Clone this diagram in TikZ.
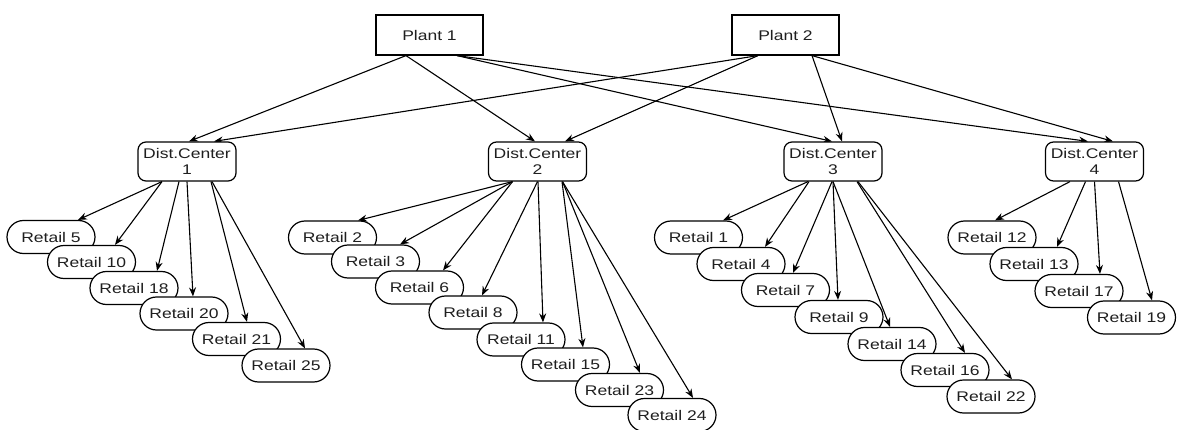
\documentclass[tikz,border=0pt]{standalone}
\usepackage{fontspec}
\setmainfont[FakeStretch=1.25]{Liberation Sans}
\usetikzlibrary{calc,arrows.meta,backgrounds}
\newcommand\conn[4]{\draw[arr] ($(#1)+(#2,0)$) -- ($(#3)+(#4,0)$);}
\begin{document}
\begin{tikzpicture}[x=1pt,y=-1pt,
  every node/.style={font=\fontsize{14}{16}\selectfont, text=black!88},
  plantbox/.style={draw, fill=white, line width=1.2pt, minimum width=107pt, minimum height=40pt, inner sep=0pt},
  dcbox/.style={draw, fill=white, line width=1.2pt, rounded corners=8pt, minimum width=98pt, minimum height=39pt, inner sep=0pt, align=center},
  retail/.style={draw, fill=white, line width=1.2pt, rounded corners=16.5pt, minimum width=88pt, minimum height=33pt, inner sep=0pt},
  arr/.style={-{Stealth[length=9pt,width=7pt]}, line width=1.1pt}]
\useasboundingbox (0,0) rectangle (1180,430);
% plants
\node[plantbox] (p1) at (429.5,35) {Plant 1};
\node[plantbox] (p2) at (785.5,35) {Plant 2};
% distribution centers
\node[dcbox] (d1) at (187,161.5) {Dist.Center\\1};
\node[dcbox] (d2) at (537.5,161.5) {Dist.Center\\2};
\node[dcbox] (d3) at (833,161.5) {Dist.Center\\3};
\node[dcbox] (d4) at (1094.5,161.5) {Dist.Center\\4};
% retails of DC1
\node[retail] (r5)  at (51,237)    {Retail 5};
\node[retail] (r10) at (91.5,262)  {Retail 10};
\node[retail] (r18) at (134,288)   {Retail 18};
\node[retail] (r20) at (184,313.5) {Retail 20};
\node[retail] (r21) at (236.5,339) {Retail 21};
\node[retail] (r25) at (286,365.5) {Retail 25};
% retails of DC2
\node[retail] (r2)  at (332.5,237.5) {Retail 2};
\node[retail] (r3)  at (375.5,261.5) {Retail 3};
\node[retail] (r6)  at (419.5,287.5) {Retail 6};
\node[retail] (r8)  at (473,312.5)   {Retail 8};
\node[retail] (r11) at (521,339.5)   {Retail 11};
\node[retail] (r15) at (565.5,364.5) {Retail 15};
\node[retail] (r23) at (619.5,390)   {Retail 23};
\node[retail] (r24) at (672,415)     {Retail 24};
% retails of DC3
\node[retail] (r1)  at (698.5,237.5) {Retail 1};
\node[retail] (r4)  at (741,264)     {Retail 4};
\node[retail] (r7)  at (785.5,290)   {Retail 7};
\node[retail] (r9)  at (839,317)     {Retail 9};
\node[retail] (r14) at (892,344)     {Retail 14};
\node[retail] (r16) at (945,370)     {Retail 16};
\node[retail] (r22) at (991,396.5)   {Retail 22};
% retails of DC4
\node[retail] (r12) at (992,237.5)   {Retail 12};
\node[retail] (r13) at (1034,264)    {Retail 13};
\node[retail] (r17) at (1079,291)    {Retail 17};
\node[retail] (r19) at (1131.5,317.5) {Retail 19};
\begin{pgfonlayer}{background}
% plant -> dc
\conn{p1.south}{-23.5}{d1.north}{2}
\conn{p1.south}{-23.5}{d2.north}{-2.5}
\conn{p1.south}{27.5}{d3.north}{-1}
\conn{p1.south}{27.5}{d4.north}{-6.5}
\conn{p2.south}{-27.5}{d1.north}{27}
\conn{p2.south}{-27.5}{d2.north}{27.5}
\conn{p2.south}{26.5}{d3.north}{9}
\conn{p2.south}{26.5}{d4.north}{18.5}
% dc1
\conn{d1.south}{-25}{r5.north}{27}
\conn{d1.south}{-25}{r10.north}{23.5}
\conn{d1.south}{-8}{r18.north}{23}
\conn{d1.south}{0}{r20.north}{9}
\conn{d1.south}{24}{r21.north}{10.5}
\conn{d1.south}{25}{r25.north}{19}
% dc2
\conn{d2.south}{-25}{r2.north}{25.5}
\conn{d2.south}{-25}{r3.north}{24.5}
\conn{d2.south}{-25}{r6.north}{23.5}
\conn{d2.south}{0}{r8.north}{9}
\conn{d2.south}{0.5}{r11.north}{22}
\conn{d2.south}{24.5}{r15.north}{17.5}
\conn{d2.south}{25}{r23.north}{20.5}
\conn{d2.south}{25}{r24.north}{21}
% dc3
\conn{d3.south}{-25}{r1.north}{24.5}
\conn{d3.south}{-24}{r4.north}{24}
\conn{d3.south}{-1}{r7.north}{7.5}
\conn{d3.south}{0}{r9.north}{-1}
\conn{d3.south}{0}{r14.north}{-2}
\conn{d3.south}{24}{r16.north}{20}
\conn{d3.south}{25}{r22.north}{21}
% dc4
\conn{d4.south}{-24.5}{r12.north}{3}
\conn{d4.south}{-9}{r13.north}{23}
\conn{d4.south}{0}{r17.north}{21}
\conn{d4.south}{24}{r19.north}{20.5}
\end{pgfonlayer}
\end{tikzpicture}
\end{document}
